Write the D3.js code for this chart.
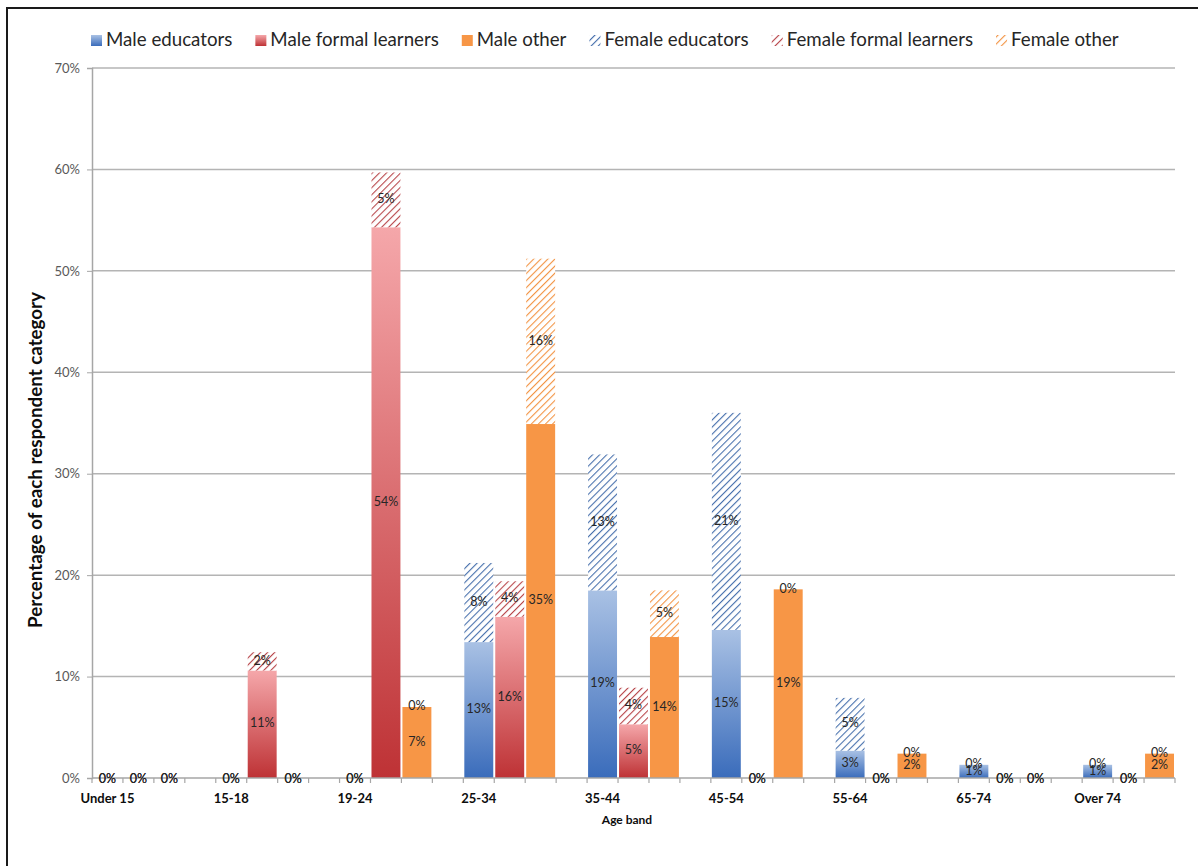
<!DOCTYPE html>
<html>
<head>
<meta charset="utf-8">
<script src="https://d3js.org/d3.v7.min.js"></script>
<style>
  body { margin: 0; background: #fff; }
  text { font-family: Lato, "Open Sans", sans-serif; }
</style>
</head>
<body>
<div id="chart"></div>
<script>
// age bands (one group of 3 slots + 1 gap each)
var groups = ["Under 15", "15-18", "19-24", "25-34", "35-44", "45-54", "55-64", "65-74", "Over 74"];
var roles = ["educators", "formal learners", "other"];

// percentages
var maleEducators  = [0, 0, 0, 13.4, 18.5, 14.6, 2.7, 1.3, 1.3];
var maleLearners   = [0, 10.6, 54.3, 15.9, 5.3, 0, 0, 0, 0];
var maleOther      = [0, 0, 7.0, 34.9, 13.9, 18.6, 2.4, 0, 2.4];
var femaleEducators = [0, 0, 0, 7.8, 13.4, 21.4, 5.2, 0, 0];
var femaleLearners  = [0, 1.8, 5.4, 3.5, 3.6, 0, 0, 0, 0];
var femaleOther     = [0, 0, 0, 16.3, 4.6, 0, 0, 0, 0];

var yTicks = [0, 10, 20, 30, 40, 50, 60, 70];
var legendNames = ["Male educators", "Male formal learners", "Male other",
                   "Female educators", "Female formal learners", "Female other"];

var W = 1198, H = 866;
var margin = {top: 68, left: 92, right: 1175, bottom: 778};

var svg = d3.select("#chart").append("svg")
  .attr("width", W).attr("height", H);

// frame
svg.append("rect").attr("x", 7).attr("y", 8).attr("width", W + 20).attr("height", H + 20)
  .attr("fill", "none").attr("stroke", "#1a1a1a").attr("stroke-width", 2);

var defs = svg.append("defs");
var colors = {
  educators: {top: "#a9c1e4", bottom: "#3a6cbb", hatch: "#4770ad"},
  "formal learners": {top: "#f5a7aa", bottom: "#be3235", hatch: "#b8464a"},
  other: {top: "#f79646", bottom: "#f79646", hatch: "#f39444"}
};
roles.forEach(function(r, i) {
  var g = defs.append("linearGradient").attr("id", "grad" + i)
    .attr("x1", 0).attr("y1", 0).attr("x2", 0).attr("y2", 1);
  g.append("stop").attr("offset", "0%").attr("stop-color", colors[r].top);
  g.append("stop").attr("offset", "100%").attr("stop-color", colors[r].bottom);
  var p = defs.append("pattern").attr("id", "hatch" + i)
    .attr("patternUnits", "userSpaceOnUse").attr("width", 5).attr("height", 5)
    .attr("patternTransform", "rotate(45)");
  p.append("rect").attr("width", 5).attr("height", 5).attr("fill", "#fff");
  p.append("line").attr("x1", 0).attr("y1", 0).attr("x2", 0).attr("y2", 5)
    .attr("stroke", colors[r].hatch).attr("stroke-width", 2.2);
});

var nSlots = groups.length * 4 - 1;
var x = d3.scaleBand().domain(d3.range(nSlots)).range([margin.left, margin.right]).padding(0);
var y = d3.scaleLinear().domain([0, 70]).range([margin.bottom, margin.top]);

// gridlines
svg.append("g").selectAll("line").data(yTicks.slice(1)).join("line")
  .attr("x1", margin.left).attr("x2", margin.right)
  .attr("y1", function(d) { return y(d); }).attr("y2", function(d) { return y(d); })
  .attr("stroke", "#b4b4b4").attr("stroke-width", 1.5);

// y axis
var yAxis = svg.append("g").attr("transform", "translate(" + margin.left + ",0)")
  .call(d3.axisLeft(y).tickValues(yTicks).tickSize(5).tickFormat(function(d) { return d + "%"; }));
yAxis.select(".domain").attr("stroke", "#a6a6a6").attr("stroke-width", 1.5);
yAxis.selectAll(".tick line").attr("stroke", "#a6a6a6");
yAxis.selectAll(".tick text").attr("x", -12).attr("fill", "#595959")
  .style("font-size", "13px").style("font-family", "Lato, sans-serif");

// build the slot table
var male = [maleEducators, maleLearners, maleOther];
var female = [femaleEducators, femaleLearners, femaleOther];
var slots = [];
groups.forEach(function(g, gi) {
  roles.forEach(function(r, ri) {
    slots.push({slot: gi * 4 + ri, role: ri, m: male[ri][gi], f: female[ri][gi]});
  });
});

var bars = svg.append("g");
// male part
bars.selectAll("rect.m").data(slots.filter(function(d) { return d.m > 0; })).join("rect")
  .attr("class", "m")
  .attr("x", function(d) { return x(d.slot) + 1; })
  .attr("width", x.bandwidth() - 2)
  .attr("y", function(d) { return y(d.m); })
  .attr("height", function(d) { return y(0) - y(d.m); })
  .attr("fill", function(d) { return "url(#grad" + d.role + ")"; });
// female part stacked on top
bars.selectAll("rect.f").data(slots.filter(function(d) { return d.f > 0; })).join("rect")
  .attr("class", "f")
  .attr("x", function(d) { return x(d.slot) + 1; })
  .attr("width", x.bandwidth() - 2)
  .attr("y", function(d) { return y(d.m + d.f); })
  .attr("height", function(d) { return y(d.m) - y(d.m + d.f); })
  .attr("fill", function(d) { return "url(#hatch" + d.role + ")"; });

// x axis
svg.append("line").attr("x1", margin.left).attr("x2", margin.right)
  .attr("y1", y(0)).attr("y2", y(0)).attr("stroke", "#a6a6a6").attr("stroke-width", 1.5);
svg.append("g").selectAll("line").data(d3.range(nSlots + 1)).join("line")
  .attr("x1", function(d) { return margin.left + d * x.step(); })
  .attr("x2", function(d) { return margin.left + d * x.step(); })
  .attr("y1", y(0)).attr("y2", y(0) + 5)
  .attr("stroke", "#a6a6a6").attr("stroke-width", 1.2);

// data labels
var labels = [];
slots.forEach(function(d) {
  labels.push({slot: d.slot, v: d.m, pos: d.m / 2});
  labels.push({slot: d.slot, v: d.f, pos: d.m + d.f / 2});
});
svg.append("g").selectAll("text").data(labels).join("text")
  .attr("x", function(d) { return x(d.slot) + x.bandwidth() / 2; })
  .attr("y", function(d) { return y(d.pos) + (d.v === 0 && d.pos === 0 ? 2 : 0); })
  .attr("text-anchor", "middle").attr("dominant-baseline", "middle")
  .attr("fill", "#262626").style("font-size", "12.5px")
  .text(function(d) { return Math.round(d.v) + "%"; });

// category labels
svg.append("g").selectAll("text").data(groups).join("text")
  .attr("x", function(d, i) { return x(i * 4) + x.bandwidth() / 2; })
  .attr("y", 800)
  .attr("text-anchor", "middle").attr("dominant-baseline", "middle")
  .attr("fill", "#0d0d0d").style("font-size", "13px").style("font-weight", "bold")
  .text(function(d) { return d; });

svg.append("text").attr("x", 627).attr("y", 821)
  .attr("text-anchor", "middle").attr("dominant-baseline", "middle")
  .style("font-size", "12px").style("font-weight", "bold").attr("fill", "#0d0d0d")
  .text("Age band");

svg.append("text")
  .attr("transform", "translate(37,460) rotate(-90)")
  .attr("text-anchor", "middle").attr("dominant-baseline", "middle")
  .style("font-size", "18.8px").style("font-weight", "bold").attr("fill", "#0d0d0d")
  .text("Percentage of each respondent category");

// legend
var lx = 91;
legendNames.forEach(function(name, i) {
  var role = i % 3;
  var fill = i < 3 ? "url(#grad" + role + ")" : "url(#hatch" + role + ")";
  svg.append("rect").attr("x", lx).attr("y", 35).attr("width", 11).attr("height", 11).attr("fill", fill);
  var t = svg.append("text").attr("x", lx + 15).attr("y", 41)
    .attr("dominant-baseline", "middle").attr("fill", "#262626")
    .style("font-size", "18.7px").text(name);
  lx += 15 + t.node().getComputedTextLength() + 23;
});
</script>
</body>
</html>
